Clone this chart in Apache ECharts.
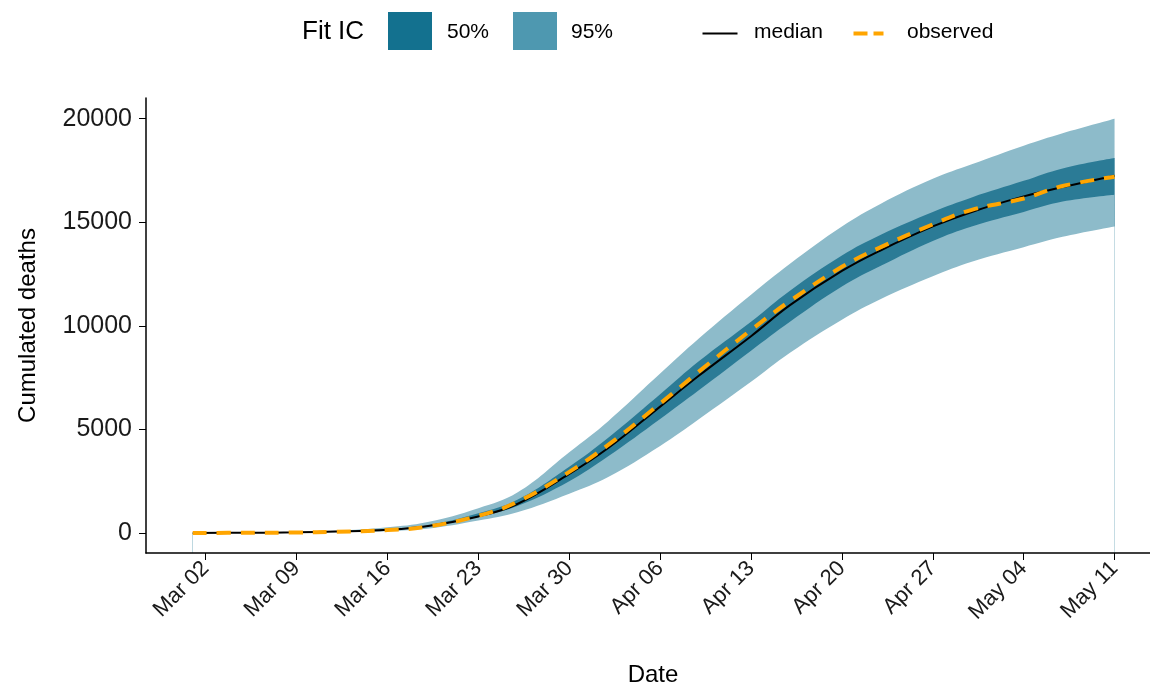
<!DOCTYPE html>
<html><head><meta charset="utf-8">
<script src="https://cdn.jsdelivr.net/npm/echarts@6/dist/echarts.min.js"></script>
<style>html,body{margin:0;background:#fff}#chart{width:1150px;height:688px}</style>
</head><body><div id="chart"></div>
<script>
// day index counted from Mar 01
var days      = [0, 4, 8, 11, 15, 18, 22, 25, 29, 32, 36, 39, 43, 46, 50, 53, 57, 60, 64, 67, 71];
var median    = [0, 10, 30, 70, 160, 330, 800, 1400, 2850, 4100, 6100, 7600, 9500, 11000, 12650, 13650, 14800, 15500, 16250, 16700, 17250];
var observed  = [0, 10, 25, 60, 140, 300, 830, 1500, 2950, 4250, 6250, 7800, 9800, 11200, 12850, 13800, 14900, 15600, 16150, 16750, 17200];
var low95     = [0, 5, 15, 40, 90, 200, 600, 1000, 1900, 2700, 4200, 5500, 7300, 8700, 10300, 11300, 12400, 13100, 13800, 14300, 14800];
var high95    = [0, 20, 50, 110, 280, 520, 1200, 1950, 3900, 5400, 7700, 9400, 11500, 13000, 14800, 15900, 17100, 17800, 18700, 19300, 20000];
var low50     = [0, 8, 25, 60, 140, 290, 780, 1300, 2500, 3700, 5500, 6900, 8800, 10200, 11900, 12900, 14100, 14800, 15500, 16000, 16330];
var high50    = [0, 12, 35, 80, 190, 360, 950, 1600, 3200, 4600, 6700, 8300, 10200, 11700, 13400, 14400, 15500, 16200, 17000, 17600, 18100];
var tickDays  = [1, 8, 15, 22, 29, 36, 43, 50, 57, 64, 71];
var tickNames = ['Mar 02','Mar 09','Mar 16','Mar 23','Mar 30','Apr 06','Apr 13','Apr 20','Apr 27','May 04','May 11'];
var yTicks    = [0, 5000, 10000, 15000, 20000];

function pairs(ys){ return days.map(function(d,i){ return [d, ys[i]]; }); }

var font = 'Liberation Sans';
var chart = echarts.init(document.getElementById('chart'));
// bands painted top-down: each area fills to the axis bottom, the next one covers it
var band = function(name, ys, color, z){
  return {name:name, type:'line', data:pairs(ys), symbol:'none', smooth:0.4, z:z,
    lineStyle:{width:0, color:color}, areaStyle:{color:color, opacity:1, origin:'start'}};
};
var option = {
  animation:false,
  textStyle:{fontFamily:font},
  grid:{left:146, top:98, width:1014, height:455, containLabel:false, outerBoundsMode:'none'},
  xAxis:{type:'value', min:-3.6, max:74.5, z:10,
    axisLine:{onZero:false, lineStyle:{color:'#000', width:1.5}},
    axisTick:{show:true, inside:false, customValues:tickDays, length:7, lineStyle:{color:'#000'}},
    axisLabel:{customValues:tickDays, rotate:45, fontSize:22, color:'#1a1a1a', margin:12,
      formatter:function(v){ return tickNames[tickDays.indexOf(Math.round(v))] || ''; }},
    splitLine:{show:false},
    name:'Date', nameLocation:'middle', nameGap:110, nameTextStyle:{fontSize:24, color:'#000'}},
  yAxis:{type:'value', min:-966, max:21000, z:10,
    axisLine:{show:true, onZero:false, lineStyle:{color:'#000', width:1.5}},
    axisTick:{show:true, inside:false, customValues:yTicks, length:7, lineStyle:{color:'#000'}},
    axisLabel:{customValues:yTicks, fontSize:25, color:'#1a1a1a', margin:14,
      formatter:function(v){ return String(v); }},
    splitLine:{show:false},
    name:'Cumulated deaths', nameLocation:'middle', nameGap:106, nameTextStyle:{fontSize:24, color:'#000'}},
  series:[
    band('95', high95, '#8dbbca', 1),
    band('50', high50, '#2b7b96', 2),
    band('50low', low50, '#8dbbca', 3),
    band('95low', low95, '#ffffff', 4),
    {name:'median', type:'line', data:pairs(median), symbol:'none', smooth:0.4, z:5,
      lineStyle:{color:'#000', width:2}},
    {name:'observed', type:'line', data:pairs(observed), symbol:'none', smooth:0.4, z:6,
      lineStyle:{color:'#ffa500', width:4, type:[14,10]}}
  ],
  graphic:[
    {type:'text', left:302, top:19, style:{text:'Fit IC', font:'26px '+font, fill:'#000'}},
    {type:'rect', left:388, top:12, shape:{width:44, height:38}, style:{fill:'#13718f'}},
    {type:'text', left:447, top:22, style:{text:'50%', font:'21px '+font, fill:'#000'}},
    {type:'rect', left:513, top:12, shape:{width:44, height:38}, style:{fill:'#4e98b0'}},
    {type:'text', left:571, top:22, style:{text:'95%', font:'21px '+font, fill:'#000'}},
    {type:'line', left:700, top:31, shape:{x1:0,y1:0,x2:35,y2:0}, style:{stroke:'#000', lineWidth:2}},
    {type:'text', left:754, top:22, style:{text:'median', font:'21px '+font, fill:'#000'}},
    {type:'line', left:851, top:31, shape:{x1:0,y1:0,x2:30,y2:0}, style:{stroke:'#ffa500', lineWidth:4, lineDash:[14,6]}},
    {type:'text', left:907, top:22, style:{text:'observed', font:'21px '+font, fill:'#000'}}
  ]
};
chart.setOption(option);
</script></body></html>
